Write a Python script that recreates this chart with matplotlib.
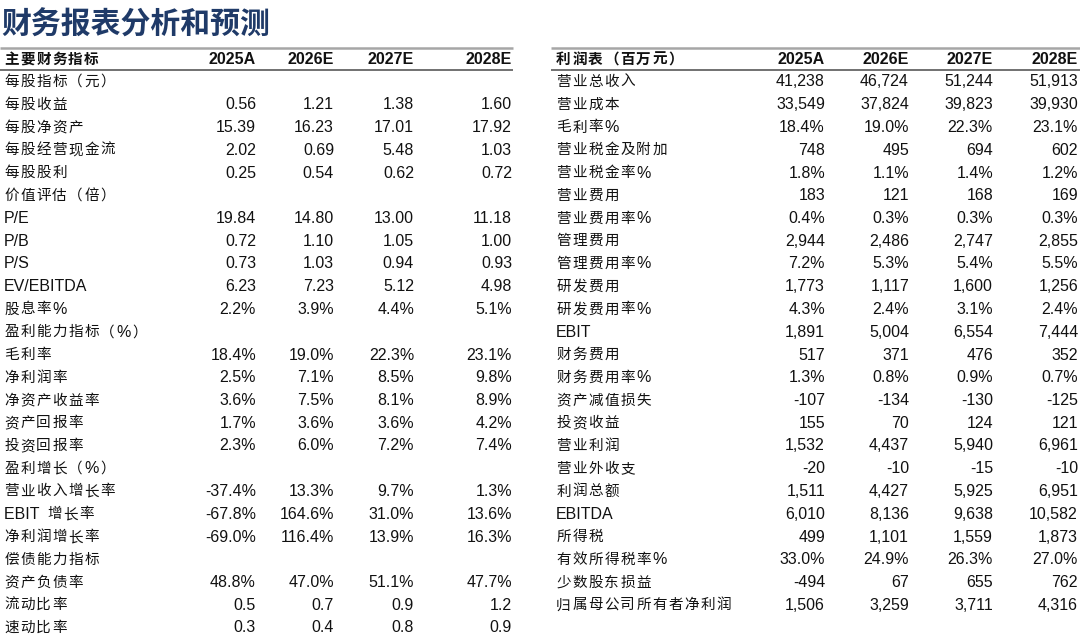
import matplotlib
matplotlib.use("Agg")
import matplotlib.pyplot as plt

plt.rcParams['font.family'] = ['Noto Sans CJK SC', 'DejaVu Sans']

title = "财务报表分析和预测"
years = ["2025A", "2026E", "2027E", "2028E"]

# left table: main financial indicators
left_header = "主要财务指标"
left_labels = [
    "每股指标（元）", "每股收益", "每股净资产", "每股经营现金流", "每股股利",
    "价值评估（倍）", "P/E", "P/B", "P/S", "EV/EBITDA", "股息率%",
    "盈利能力指标（%）", "毛利率", "净利润率", "净资产收益率", "资产回报率", "投资回报率",
    "盈利增长（%）", "营业收入增长率", "EBIT 增长率", "净利润增长率",
    "偿债能力指标", "资产负债率", "流动比率", "速动比率",
]
left_values = [
    None,
    ["0.56", "1.21", "1.38", "1.60"],
    ["15.39", "16.23", "17.01", "17.92"],
    ["2.02", "0.69", "5.48", "1.03"],
    ["0.25", "0.54", "0.62", "0.72"],
    None,
    ["19.84", "14.80", "13.00", "11.18"],
    ["0.72", "1.10", "1.05", "1.00"],
    ["0.73", "1.03", "0.94", "0.93"],
    ["6.23", "7.23", "5.12", "4.98"],
    ["2.2%", "3.9%", "4.4%", "5.1%"],
    None,
    ["18.4%", "19.0%", "22.3%", "23.1%"],
    ["2.5%", "7.1%", "8.5%", "9.8%"],
    ["3.6%", "7.5%", "8.1%", "8.9%"],
    ["1.7%", "3.6%", "3.6%", "4.2%"],
    ["2.3%", "6.0%", "7.2%", "7.4%"],
    None,
    ["-37.4%", "13.3%", "9.7%", "1.3%"],
    ["-67.8%", "164.6%", "31.0%", "13.6%"],
    ["-69.0%", "116.4%", "13.9%", "16.3%"],
    None,
    ["48.8%", "47.0%", "51.1%", "47.7%"],
    ["0.5", "0.7", "0.9", "1.2"],
    ["0.3", "0.4", "0.8", "0.9"],
]

# right table: income statement
right_header = "利润表（百万元）"
right_labels = [
    "营业总收入", "营业成本", "毛利率%", "营业税金及附加", "营业税金率%",
    "营业费用", "营业费用率%", "管理费用", "管理费用率%", "研发费用", "研发费用率%",
    "EBIT", "财务费用", "财务费用率%", "资产减值损失", "投资收益", "营业利润",
    "营业外收支", "利润总额", "EBITDA", "所得税", "有效所得税率%", "少数股东损益",
    "归属母公司所有者净利润",
]
right_values = [
    ["41,238", "46,724", "51,244", "51,913"],
    ["33,549", "37,824", "39,823", "39,930"],
    ["18.4%", "19.0%", "22.3%", "23.1%"],
    ["748", "495", "694", "602"],
    ["1.8%", "1.1%", "1.4%", "1.2%"],
    ["183", "121", "168", "169"],
    ["0.4%", "0.3%", "0.3%", "0.3%"],
    ["2,944", "2,486", "2,747", "2,855"],
    ["7.2%", "5.3%", "5.4%", "5.5%"],
    ["1,773", "1,117", "1,600", "1,256"],
    ["4.3%", "2.4%", "3.1%", "2.4%"],
    ["1,891", "5,004", "6,554", "7,444"],
    ["517", "371", "476", "352"],
    ["1.3%", "0.8%", "0.9%", "0.7%"],
    ["-107", "-134", "-130", "-125"],
    ["155", "70", "124", "121"],
    ["1,532", "4,437", "5,940", "6,961"],
    ["-20", "-10", "-15", "-10"],
    ["1,511", "4,427", "5,925", "6,951"],
    ["6,010", "8,136", "9,638", "10,582"],
    ["499", "1,101", "1,559", "1,873"],
    ["33.0%", "24.9%", "26.3%", "27.0%"],
    ["-494", "67", "655", "762"],
    ["1,506", "3,259", "3,711", "4,316"],
]

W, H = 1080, 637
fig = plt.figure(figsize=(W / 100, H / 100), dpi=100)
ax = fig.add_axes([0, 0, 1, 1])
ax.set_xlim(0, W)
ax.set_ylim(H, 0)
ax.axis('off')
renderer = fig.canvas.get_renderer()

txt_color = "#111111"
num_font = "Liberation Sans"
cjk_font = ['Noto Sans CJK SC', 'DejaVu Sans']
header_y = 59
row0_y = 82
row_h = 22.75
cjk_pitch = 16.0   # the source font is letter-spaced


def spaced_label(x, y, s, bold=False):
    # CJK glyphs one by one on a fixed pitch, latin runs as one piece
    w = 'bold' if bold else 'normal'
    run = ""
    for ch in s + "\0":
        if ch != "\0" and ord(ch) < 128:
            run += ch
            continue
        if run:
            t = ax.text(x, y, run, family=num_font, fontsize=11.5, color=txt_color,
                        fontweight=w, va='center', ha='left')
            x += t.get_window_extent(renderer).width + (3 if run.endswith(" ") else 1.5)
            run = ""
        if ch == "\0":
            break
        ax.text(x + cjk_pitch / 2 - 0.5, y, ch, family=cjk_font, fontsize=10.5,
                color=txt_color, fontweight=w, va='center', ha='center')
        x += cjk_pitch


def draw_table(x0, x1, label_x, col_right, header, labels, values):
    ax.plot([x0, x1], [47.5, 47.5], color="#a6a6a6", lw=1.8, solid_capstyle='butt')
    ax.plot([x0, x1], [69.5, 69.5], color="#595959", lw=1.2, solid_capstyle='butt')
    spaced_label(label_x, header_y, header, bold=True)
    for cx, yr in zip(col_right, years):
        ax.text(cx, header_y, yr, family=num_font, fontsize=11.5, fontweight='bold',
                color=txt_color, va='center', ha='right')
    for i, lab in enumerate(labels):
        y = row0_y + i * row_h
        spaced_label(label_x, y, lab)
        if values[i] is None:
            continue
        for cx, v in zip(col_right, values[i]):
            ax.text(cx, y, v, family=num_font, fontsize=11.5, color=txt_color,
                    va='center', ha='right')


ax.text(1, 25, title, fontsize=21.5, fontweight='bold', color="#1f3a68",
        va='center', ha='left')

draw_table(0, 513, 4, [256, 334, 414, 512], left_header, left_labels, left_values)
draw_table(551, 1080, 556, [825, 909, 993, 1078], right_header, right_labels, right_values)

fig.savefig("out.png", dpi=100)
plt.close(fig)
